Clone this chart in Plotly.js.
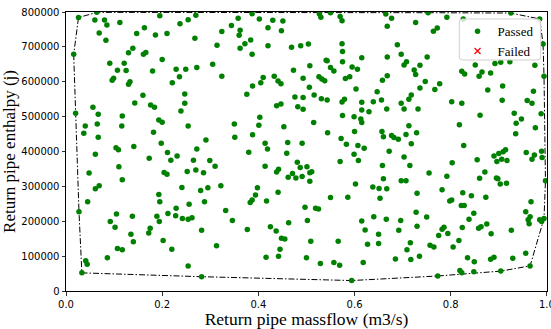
<!DOCTYPE html>
<html>
<head>
<meta charset="utf-8">
<script src="https://cdn.plot.ly/plotly-3.0.1.min.js"></script>
<style>
  html, body { margin: 0; padding: 0; background: #fff; }
  #chart { width: 551px; height: 329px; }
</style>
</head>
<body>
<div id="chart"></div>
<script>
// Samples that passed the check: return pipe massflow (m3/s) and enthalpy (j)
const passedX = [
  0.026,0.064,0.060,0.080,0.085,0.112,0.069,0.083,0.195,0.237,
  0.163,0.147,0.186,0.210,0.016,0.139,0.130,0.161,0.166,0.200,
  0.091,0.121,0.107,0.125,0.180,0.229,0.236,0.221,0.099,0.096,
  0.133,0.130,0.160,
  0.254,0.270,0.358,0.387,0.402,0.430,0.451,0.344,0.420,0.324,
  0.362,0.360,0.448,0.268,0.384,0.372,0.362,0.314,0.420,0.469,
  0.488,0.387,0.249,0.272,0.305,0.324,0.473,0.410,0.433,0.405,
  0.441,0.447,0.388,0.247,0.376,0.476,
  0.527,0.530,0.550,0.570,0.574,0.665,0.677,0.668,0.727,0.504,
  0.574,0.575,0.689,0.697,0.615,0.668,0.541,0.543,0.575,0.507,
  0.550,0.557,0.595,0.606,0.708,0.703,0.736,0.724,0.727,0.493,
  0.526,0.532,0.538,0.581,0.590,0.658,0.668,0.506,0.603,0.647,
  0.736,0.718,0.713,0.516,0.493,0.531,0.543,0.579,0.574,0.615,
  0.639,0.656,
  0.753,0.792,0.826,0.925,0.985,0.764,0.772,0.992,0.751,0.975,
  0.851,0.892,0.904,0.923,0.823,0.829,0.865,0.859,0.883,0.994,
  0.747,0.777,0.767,0.908,0.877,0.972,0.802,0.907,0.959,
  0.020,0.056,0.067,0.040,0.037,0.065,0.067,0.117,0.116,0.143,
  0.176,0.184,0.239,0.193,0.200,0.182,0.141,0.198,0.104,0.109,
  0.061,0.211,0.218,0.231,0.173,0.110,0.048,0.204,0.210,0.117,
  0.061,0.069,0.241,0.193,
  0.247,0.438,0.447,0.482,0.254,0.350,0.351,0.403,0.401,0.453,
  0.388,0.291,0.272,0.414,0.419,0.461,0.491,0.380,0.459,0.265,
  0.299,0.310,0.481,0.487,0.252,0.270,0.286,0.414,0.442,0.438,
  0.471,0.478,0.462,0.491,0.280,0.295,0.322,0.398,0.394,0.441,
  0.697,0.493,0.615,0.630,0.667,0.703,0.732,0.575,0.599,0.613,
  0.615,0.515,0.544,0.600,0.572,0.583,0.657,0.660,0.677,0.682,
  0.691,0.707,0.713,0.729,0.718,0.607,0.620,0.599,0.608,0.672,
  0.703,0.715,0.570,0.658,0.501,0.511,0.507,0.507,0.660,0.697,
  0.707,0.602,0.638,0.651,0.667,0.730,0.586,
  0.823,0.969,0.861,0.932,0.947,0.936,0.988,0.818,0.976,0.935,
  0.827,0.914,0.909,0.900,0.890,0.906,0.896,0.917,0.957,0.974,
  0.969,0.989,0.990,0.855,0.803,0.755,0.792,0.871,0.860,0.895,
  0.898,0.903,0.916,0.997,0.782,0.825,0.843,0.873,
  0.045,0.027,0.092,0.102,0.105,0.138,0.135,0.140,0.107,0.117,
  0.086,0.041,0.044,0.033,0.195,0.189,0.194,0.175,0.172,0.212,
  0.229,0.228,0.242,0.202,0.220,
  0.256,0.288,0.254,0.262,0.332,0.346,0.387,0.383,0.417,0.282,
  0.377,0.425,0.437,0.463,0.448,0.455,0.445,0.442,0.416,0.313,
  0.254,0.282,
  0.550,0.653,0.497,0.519,0.525,0.502,0.615,0.640,0.666,0.696,
  0.728,0.730,0.622,0.650,0.692,0.509,0.566,0.627,0.650,0.716,
  0.709,0.500,0.529,0.557,0.569,0.618,0.685,0.717,0.735,0.594,
  0.798,0.802,0.822,0.828,0.967,0.750,0.848,0.838,0.956,0.965,
  0.961,0.963,0.985,0.989,0.994,0.786,0.782,0.794,0.775,0.824,
  0.858,0.863,0.875,0.884,0.926,0.817,0.805,0.757,0.765,0.835,
  0.849,0.883,0.890,0.929,0.956,0.965,0.819,0.823,0.848,0.904,
  0.773
];
const passedY = [
  784000,799000,777000,777000,763000,770000,740000,719000,789000,766000,
  755000,738000,734000,738000,679000,696000,683000,679000,684000,664000,
  653000,653000,633000,632000,631000,636000,614000,597000,610000,604000,
  600000,593000,561000,
  778000,791000,782000,795000,780000,776000,774000,761000,755000,744000,
  748000,733000,746000,725000,720000,709000,696000,705000,703000,699000,
  703000,679000,636000,641000,650000,616000,633000,612000,616000,597000,
  602000,594000,588000,565000,564000,556000,
  794000,785000,798000,787000,775000,794000,782000,759000,770000,708000,
  709000,687000,706000,679000,669000,671000,662000,660000,657000,646000,
  641000,631000,642000,636000,657000,648000,647000,634000,621000,610000,
  614000,608000,603000,609000,614000,604000,617000,584000,579000,571000,
  582000,562000,550000,562000,555000,551000,548000,550000,542000,541000,
  543000,548000,
  798000,785000,780000,797000,780000,745000,754000,708000,671000,647000,
  648000,652000,656000,657000,630000,622000,628000,616000,625000,616000,
  601000,594000,578000,588000,576000,573000,543000,547000,546000,
  510000,527000,507000,473000,452000,479000,441000,502000,473000,539000,
  533000,527000,516000,490000,484000,455000,414000,424000,411000,405000,
  392000,397000,375000,387000,381000,356000,338000,340000,335000,319000,
  293000,302000,297000,277000,
  538000,531000,536000,528000,473000,479000,441000,498000,475000,471000,
  448000,433000,407000,424000,407000,426000,424000,398000,395000,375000,
  374000,358000,369000,354000,343000,347000,339000,358000,349000,341000,
  337000,324000,326000,328000,288000,296000,302000,296000,275000,283000,
  538000,521000,519000,514000,522000,522000,522000,503000,500000,493000,
  483000,483000,454000,457000,437000,421000,457000,442000,446000,440000,
  435000,449000,474000,454000,422000,417000,409000,392000,374000,401000,
  384000,360000,371000,360000,356000,342000,339000,315000,322000,316000,
  316000,307000,298000,294000,293000,280000,269000,
  538000,538000,504000,510000,493000,481000,508000,477000,468000,451000,
  417000,405000,399000,394000,387000,378000,371000,374000,397000,390000,
  378000,401000,383000,376000,368000,338000,329000,341000,323000,324000,
  322000,307000,309000,316000,290000,282000,273000,269000,
  256000,227000,199000,183000,221000,214000,163000,141000,122000,118000,
  95000,87000,77000,52000,256000,214000,199000,180000,166000,222000,
  237000,216000,208000,145000,120000,
  249000,256000,206000,210000,231000,202000,261000,254000,258000,174000,
  176000,184000,172000,196000,151000,149000,120000,100000,97000,130000,
  72000,41000,
  268000,266000,240000,237000,235000,202000,201000,213000,206000,202000,
  226000,186000,175000,163000,174000,143000,143000,134000,136000,138000,
  118000,95000,79000,82000,74000,82000,92000,90000,100000,30000,
  258000,261000,245000,245000,256000,212000,223000,206000,227000,213000,
  204000,193000,204000,199000,208000,183000,177000,165000,159000,182000,
  180000,184000,192000,164000,174000,145000,126000,131000,126000,95000,
  84000,91000,97000,94000,108000,72000,59000,52000,55000,57000,
  43000
];
// No sample failed the check
const failedX = [];
const failedY = [];

// Axis ticks
const xTicks = [0.0, 0.2, 0.4, 0.6, 0.8, 1.0];
const xTickText = ['0.0', '0.2', '0.4', '0.6', '0.8', '1.0'];
const yTicks = [0, 100000, 200000, 300000, 400000, 500000, 600000, 700000, 800000];

// Convex hull (monotone chain) around the passed samples
function convexHull(xs, ys) {
  const pts = xs.map((x, i) => [x, ys[i]]).sort((a, b) => a[0] - b[0] || a[1] - b[1]);
  const cross = (o, a, b) => (a[0] - o[0]) * (b[1] - o[1]) / 1e6 - (a[1] - o[1]) * (b[0] - o[0]) / 1e6;
  const lower = [];
  for (const p of pts) {
    while (lower.length >= 2 && cross(lower[lower.length - 2], lower[lower.length - 1], p) <= 0) lower.pop();
    lower.push(p);
  }
  const upper = [];
  for (let i = pts.length - 1; i >= 0; i--) {
    const p = pts[i];
    while (upper.length >= 2 && cross(upper[upper.length - 2], upper[upper.length - 1], p) <= 0) upper.pop();
    upper.push(p);
  }
  upper.pop(); lower.pop();
  const hull = lower.concat(upper);
  hull.push(hull[0]);
  return hull;
}
const hull = convexHull(passedX, passedY);

const serif = 'Liberation Serif, Times New Roman, serif';
const sans = 'DejaVu Sans, sans-serif';

// An empty series still needs a placeholder so that its legend entry is drawn
const orGap = arr => (arr.length ? arr : [null]);

// Rounded frame behind the legend entries (paper coordinates)
function roundedBox(x0, y0, x1, y1, rx, ry) {
  return `M${x0 + rx},${y1} L${x1 - rx},${y1} Q${x1},${y1} ${x1},${y1 - ry} ` +
         `L${x1},${y0 + ry} Q${x1},${y0} ${x1 - rx},${y0} ` +
         `L${x0 + rx},${y0} Q${x0},${y0} ${x0},${y0 + ry} ` +
         `L${x0},${y1 - ry} Q${x0},${y1} ${x0 + rx},${y1} Z`;
}

const traces = [
  {
    type: 'scatter', mode: 'lines',
    x: hull.map(p => p[0]), y: hull.map(p => p[1]),
    line: { color: '#000', width: 1, dash: '6px,2px,1.5px,2px' },
    showlegend: false, hoverinfo: 'skip'
  },
  {
    type: 'scatter', mode: 'markers', name: 'Passed',
    x: passedX, y: passedY,
    marker: { color: 'green', size: 5.5, line: { width: 0 } }
  },
  {
    type: 'scatter', mode: 'markers', name: 'Failed',
    x: orGap(failedX), y: orGap(failedY),
    marker: { color: 'red', symbol: 'x-thin', size: 6, line: { color: 'red', width: 1.2 } }
  }
];

const layout = {
  width: 551, height: 329,
  margin: { l: 66, r: 4, t: 12, b: 38, pad: 0 },
  paper_bgcolor: '#fff', plot_bgcolor: '#fff',
  showlegend: true,
  legend: {
    x: 0.814, y: 0.985, xanchor: 'left', yanchor: 'top',
    bgcolor: 'rgba(0,0,0,0)', borderwidth: 0,
    font: { family: serif, size: 13, color: '#000' },
    tracegroupgap: 0
  },
  shapes: [{
    type: 'path', xref: 'paper', yref: 'paper', layer: 'above',
    path: roundedBox(0.8177, 0.828, 0.9869, 0.9749, 0.006, 0.011),
    fillcolor: 'rgba(255,255,255,0.8)',
    line: { color: '#d0d0d0', width: 1 }
  }],
  xaxis: {
    range: [0, 1.0002], tickvals: xTicks, ticktext: xTickText,
    ticklabeloverflow: 'allow',
    showgrid: false, zeroline: false,
    showline: true, mirror: true, linecolor: '#000', linewidth: 1,
    ticks: 'outside', ticklen: 3.5, tickwidth: 0.8, tickcolor: '#000',
    tickfont: { family: sans, size: 10, color: '#000' },
    title: { text: 'Return pipe massflow (m3/s)', font: { family: serif, size: 17.5, color: '#000' }, standoff: 0 }
  },
  yaxis: {
    range: [0, 800000], tickvals: yTicks, tickformat: 'd',
    showgrid: false, zeroline: false,
    showline: true, mirror: true, linecolor: '#000', linewidth: 1,
    ticks: 'outside', ticklen: 3.5, tickwidth: 0.8, tickcolor: '#000',
    tickfont: { family: sans, size: 10, color: '#000' },
    title: { text: 'Return pipe enthalpy (j)', font: { family: serif, size: 17, color: '#000' }, standoff: 3 }
  }
};

Plotly.newPlot('chart', traces, layout, { displayModeBar: false, staticPlot: true });
</script>
</body>
</html>
